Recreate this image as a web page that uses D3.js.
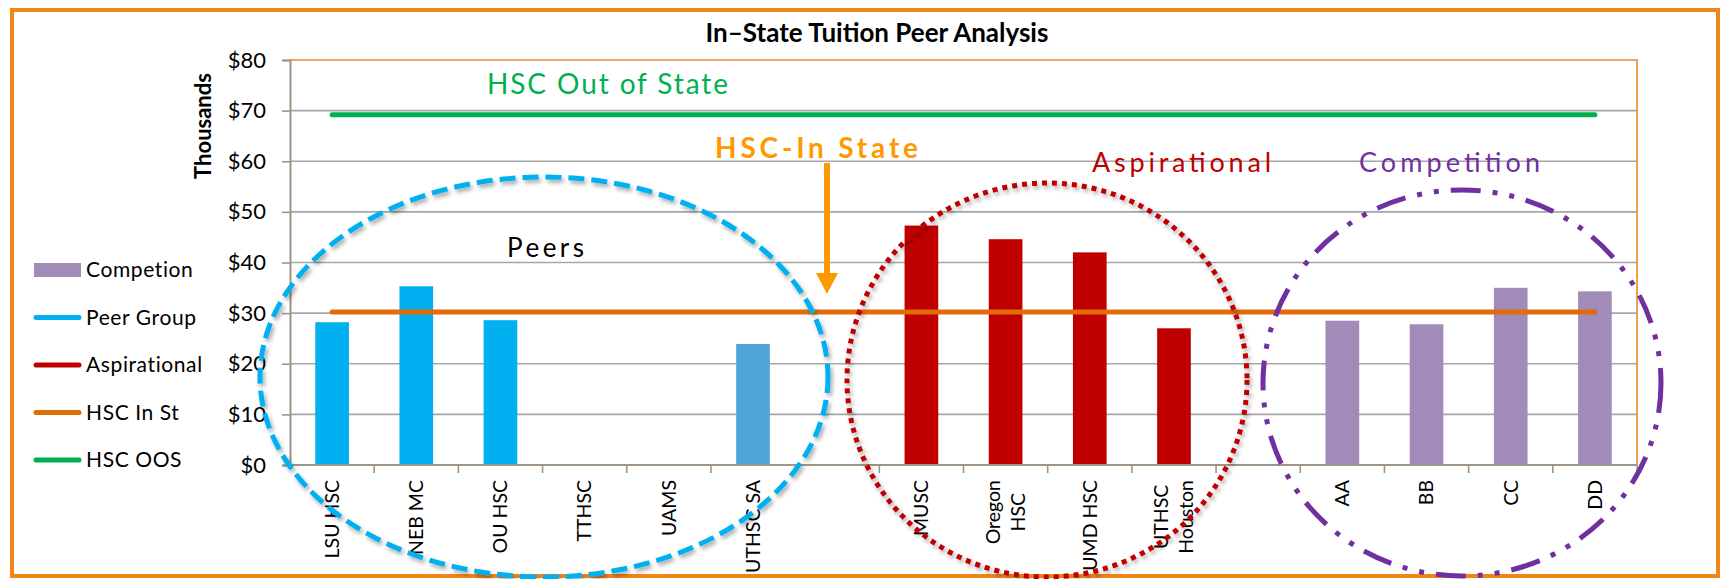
<!DOCTYPE html>
<html>
<head>
<meta charset="utf-8">
<script src="https://cdn.jsdelivr.net/npm/d3@7"></script>
<style>
  body { margin: 0; background: #fff; }
  text { font-family: Lato, "Open Sans", sans-serif; }
</style>
</head>
<body>
<div id="chart"></div>
<script>
// ---- data (values in thousands of dollars) ----
var categories = ["LSU HSC", "NEB MC", "OU HSC", "TTHSC", "UAMS", "UTHSC SA", "",
                  "MUSC", "Oregon\nHSC", "UMD HSC", "UTHSC\nHouston", "",
                  "AA", "BB", "CC", "DD"];
var peerGroup    = [28.2, 35.3, 28.6, 0, 0, 23.9, null, null, null, null, null, null, null, null, null, null];
var aspirational = [null, null, null, null, null, null, null, 47.3, 44.6, 42.0, 27.0, null, null, null, null, null];
var competition  = [null, null, null, null, null, null, null, null, null, null, null, null, 28.5, 27.8, 35.0, 34.3];
var hscInState   = [30.2, 30.2, 30.2, 30.2, 30.2, 30.2, 30.2, 30.2, 30.2, 30.2, 30.2, 30.2, 30.2, 30.2, 30.2, 30.2];
var hscOOS       = [69.2, 69.2, 69.2, 69.2, 69.2, 69.2, 69.2, 69.2, 69.2, 69.2, 69.2, 69.2, 69.2, 69.2, 69.2, 69.2];
var yTicks = [0, 10, 20, 30, 40, 50, 60, 70, 80];
var legendLabels = ["Competion", "Peer Group", "Aspirational", "HSC In St", "HSC OOS"];

var ctx = {
  w: 1721,
  h: 579,
  left: 290,
  right: 1637,
  top: 60,
  bottom: 465
};

var col = {
  peer: "#00B0F0",
  peerAlt: "#4FA5D8",
  asp: "#C00000",
  comp: "#A18BB9",
  inSt: "#E36C0A",
  oos: "#00B050",
  frame: "#F0861A",
  grid: "#A6A6A6",
  axis: "#A09488",
  arrow: "#FF9900",
  purple: "#7030A0"
};

var svg = d3.select("#chart").append("svg")
  .attr("width", ctx.w)
  .attr("height", ctx.h);

var defs = svg.append("defs");
defs.append("filter").attr("id", "shadow")
  .attr("x", "-10%").attr("y", "-10%").attr("width", "120%").attr("height", "120%")
  .append("feDropShadow")
  .attr("dx", 2).attr("dy", 3).attr("stdDeviation", 2)
  .attr("flood-color", "#000").attr("flood-opacity", 0.35);

// outer frame
svg.append("rect")
  .attr("x", 12).attr("y", 10)
  .attr("width", 1706).attr("height", 566)
  .attr("fill", "none")
  .attr("stroke", col.frame)
  .attr("stroke-width", 4);

// title
svg.append("text")
  .attr("x", 877).attr("y", 42)
  .attr("text-anchor", "middle")
  .attr("font-size", 26)
  .attr("font-weight", "bold")
  .text("In\u2013State Tuition Peer Analysis");

// scales
var x = d3.scaleBand()
  .domain(d3.range(categories.length))
  .range([ctx.left, ctx.right])
  .paddingInner(0.6)
  .paddingOuter(0.3);
var step = x.step();
var mid = function(i) { return x(i) + x.bandwidth() / 2; };

var y = d3.scaleLinear().domain([0, 80]).range([ctx.bottom, ctx.top]);

// gridlines
svg.append("g").selectAll("line")
  .data(yTicks.filter(function(d) { return d > 0 && d < 80; }))
  .enter().append("line")
  .attr("x1", ctx.left).attr("x2", ctx.right)
  .attr("y1", function(d) { return y(d); })
  .attr("y2", function(d) { return y(d); })
  .attr("stroke", col.grid)
  .attr("stroke-width", 1.6);

// plot area border: orange top and right
svg.append("path")
  .attr("d", "M" + ctx.left + "," + y(80) + "H" + ctx.right + "V" + ctx.bottom)
  .attr("fill", "none")
  .attr("stroke", "#E8892B")
  .attr("stroke-width", 1.6);

// y axis
var yAxis = d3.axisLeft(y)
  .tickValues(yTicks)
  .tickFormat(function(d) { return "$" + d; })
  .tickSize(8)
  .tickPadding(16);
var gy = svg.append("g")
  .attr("transform", "translate(" + ctx.left + ",0)")
  .call(yAxis);
gy.select(".domain").attr("stroke", col.axis).attr("stroke-width", 2);
gy.selectAll(".tick line").attr("stroke", col.axis).attr("stroke-width", 1.6);
gy.selectAll(".tick text")
  .attr("font-size", 22)
  .attr("font-family", "Lato, sans-serif")
  .attr("fill", "#000");

svg.append("text")
  .attr("transform", "translate(211,126) rotate(-90)")
  .attr("text-anchor", "middle")
  .attr("font-size", 22)
  .attr("font-weight", "bold")
  .text("Thousands");

// bars
var barColor = function(series, i) {
  if (series === "peer") return categories[i] === "UTHSC SA" ? col.peerAlt : col.peer;
  if (series === "asp") return col.asp;
  return col.comp;
};
[["peer", peerGroup], ["asp", aspirational], ["comp", competition]].forEach(function(s) {
  svg.append("g").selectAll("rect")
    .data(s[1].map(function(v, i) { return {v: v, i: i}; }).filter(function(d) { return d.v; }))
    .enter().append("rect")
    .attr("x", function(d) { return x(d.i); })
    .attr("width", x.bandwidth())
    .attr("y", function(d) { return y(d.v); })
    .attr("height", function(d) { return y(0) - y(d.v); })
    .attr("fill", function(d) { return barColor(s[0], d.i); });
});

// x axis line + ticks at category boundaries
svg.append("line")
  .attr("x1", ctx.left).attr("x2", ctx.right)
  .attr("y1", ctx.bottom).attr("y2", ctx.bottom)
  .attr("stroke", col.axis).attr("stroke-width", 2);
svg.append("g").selectAll("line")
  .data(d3.range(1, categories.length + 1))
  .enter().append("line")
  .attr("x1", function(i) { return ctx.left + i * step; })
  .attr("x2", function(i) { return ctx.left + i * step; })
  .attr("y1", ctx.bottom).attr("y2", ctx.bottom + 8)
  .attr("stroke", col.axis).attr("stroke-width", 1.6);

// x labels, rotated, top-aligned under the axis
categories.forEach(function(c, i) {
  if (!c) return;
  var lines = c.split("\n");
  var g = svg.append("g")
    .attr("transform", "translate(" + mid(i) + "," + (ctx.bottom + 15) + ") rotate(-90)");
  var lh = 25;
  var texts = lines.map(function(l, k) {
    return g.append("text")
      .attr("y", (k - (lines.length - 1) / 2) * lh)
      .attr("dy", "0.35em")
      .attr("font-size", 19.5)
      .text(l);
  });
  var maxLen = d3.max(texts, function(t) { return t.node().getComputedTextLength(); });
  texts.forEach(function(t) {
    t.attr("x", -maxLen / 2).attr("text-anchor", "middle");
  });
});

// line series
var lineGen = d3.line()
  .x(function(d, i) { return mid(i); })
  .y(function(d) { return y(d); });
svg.append("path")
  .datum(hscInState)
  .attr("d", lineGen)
  .attr("fill", "none")
  .attr("stroke", col.inSt)
  .attr("stroke-width", 5)
  .attr("stroke-linecap", "round");
svg.append("path")
  .datum(hscOOS)
  .attr("d", lineGen)
  .attr("fill", "none")
  .attr("stroke", col.oos)
  .attr("stroke-width", 5)
  .attr("stroke-linecap", "round");

// group ellipses
var ann = svg.append("g");
ann.append("ellipse")
  .attr("cx", 544).attr("cy", 377).attr("rx", 284).attr("ry", 200)
  .attr("fill", "none").attr("stroke", col.peer).attr("stroke-width", 5)
  .attr("stroke-dasharray", "16 7")
  .attr("filter", "url(#shadow)");
ann.append("ellipse")
  .attr("cx", 1047).attr("cy", 380).attr("rx", 200).attr("ry", 197)
  .attr("fill", "none").attr("stroke", col.asp).attr("stroke-width", 5)
  .attr("stroke-dasharray", "5 5")
  .attr("filter", "url(#shadow)");
ann.append("ellipse")
  .attr("cx", 1462).attr("cy", 383).attr("rx", 199).attr("ry", 193)
  .attr("fill", "none").attr("stroke", col.purple).attr("stroke-width", 5)
  .attr("stroke-dasharray", "30 12 5 12 5 12");

// arrow
ann.append("line")
  .attr("x1", 827).attr("x2", 827)
  .attr("y1", 163).attr("y2", 276)
  .attr("stroke", col.arrow).attr("stroke-width", 6);
ann.append("path")
  .attr("d", "M816,273 L838,273 L827,294 Z")
  .attr("fill", col.arrow);

// hand-lettered notes
var notes = [
  {t: "HSC Out of State", x: 487, y: 94, w: 241, c: col.oos, s: 28, b: "normal"},
  {t: "HSC-In State", x: 715, y: 158, w: 203, c: col.arrow, s: 28, b: "bold"},
  {t: "Aspirational", x: 1092, y: 172, w: 179, c: col.asp, s: 27, b: "normal"},
  {t: "Competition", x: 1359, y: 172, w: 181, c: col.purple, s: 27, b: "normal"},
  {t: "Peers", x: 507, y: 257, w: 77, c: "#000", s: 26, b: "normal"}
];
notes.forEach(function(n) {
  ann.append("text")
    .attr("x", n.x).attr("y", n.y)
    .attr("font-family", "'Open Sans', sans-serif")
    .attr("font-size", n.s)
    .attr("font-weight", n.b)
    .attr("fill", n.c)
    .attr("textLength", n.w)
    .attr("lengthAdjust", "spacing")
    .text(n.t);
});

// legend
var legendSym = [
  {type: "rect", c: col.comp},
  {type: "line", c: col.peer},
  {type: "line", c: col.asp},
  {type: "line", c: col.inSt},
  {type: "line", c: col.oos}
];
var lg = svg.append("g");
legendLabels.forEach(function(l, i) {
  var ly = 270 + i * 47.5;
  if (legendSym[i].type === "rect") {
    lg.append("rect").attr("x", 34).attr("y", ly - 7).attr("width", 47).attr("height", 14)
      .attr("fill", legendSym[i].c);
  } else {
    lg.append("line").attr("x1", 36).attr("x2", 79).attr("y1", ly).attr("y2", ly)
      .attr("stroke", legendSym[i].c).attr("stroke-width", 5).attr("stroke-linecap", "round");
  }
  lg.append("text")
    .attr("x", 86).attr("y", ly).attr("dy", "0.35em")
    .attr("font-size", 21)
    .attr("letter-spacing", 0.6)
    .text(l);
});
</script>
</body>
</html>
